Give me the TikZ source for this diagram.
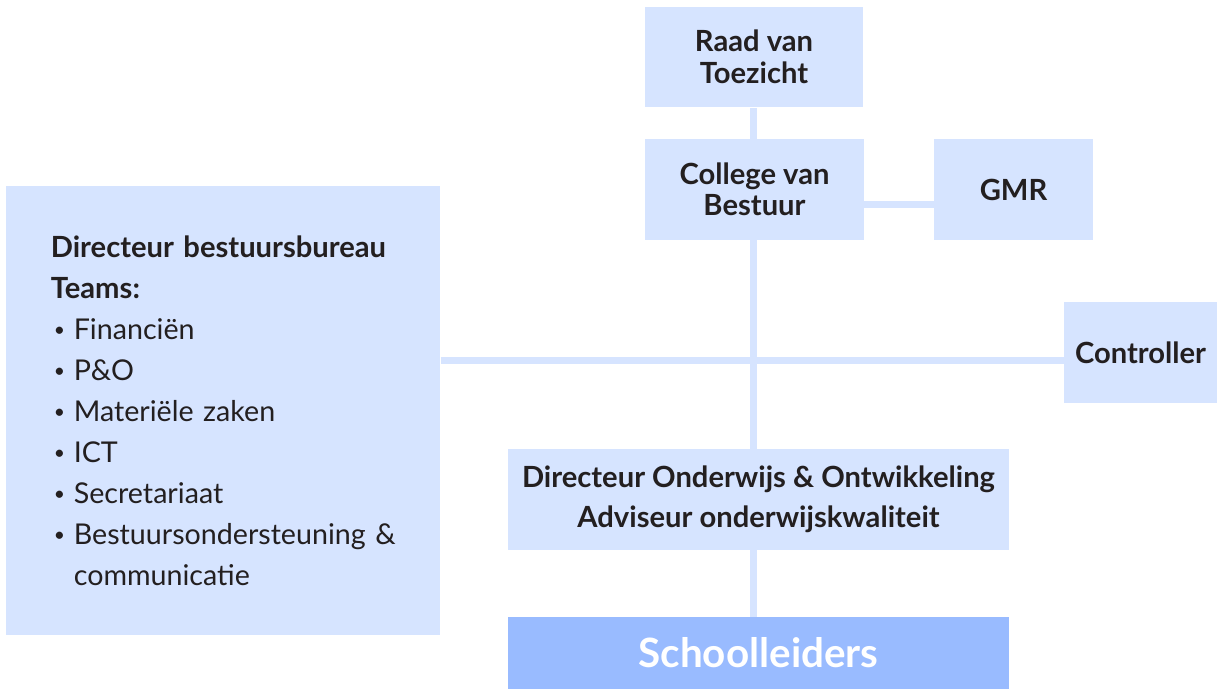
\documentclass[tikz,border=0pt]{standalone}
\usepackage{fontspec}
\setmainfont{Lato}
\definecolor{boxblue}{HTML}{D6E4FF}
\definecolor{darkblue}{HTML}{99BBFF}
\definecolor{ink}{HTML}{231F20}
\newcommand\teamitem[1]{\par\hangindent=0.46cm\hangafter=1%
  \makebox[0.46cm][l]{\hspace{0.06cm}\raisebox{0.1em}{\fontsize{11}{11}\selectfont\textbullet}}#1}
\begin{document}
\begin{tikzpicture}[x=0.02cm,y=-0.02cm,
    orgbox/.style={fill=boxblue,text=ink,align=center,inner sep=0pt,minimum height=2.02cm,
      font=\bfseries\fontsize{16.6}{17.9}\selectfont},
    link/.style={draw=boxblue,line width=0.14cm}]
  \useasboundingbox (0,0) rectangle (1217,689);
  % boxes
  \node[orgbox,minimum width=4.38cm] (raad) at (754,57) {Raad van\\Toezicht};
  \node[orgbox,minimum width=4.38cm] (cvb) at (754.5,189.5) {College van\\Bestuur};
  \node[orgbox,minimum width=3.18cm] (gmr) at (1013.5,189.5) {GMR};
  \node[orgbox,minimum width=3.06cm] (ctrl) at (1140.5,352.5) {Controller};
  \node[orgbox,minimum width=10.02cm,font=\bfseries\fontsize{16.6}{22.8}\selectfont] (dow) at (758.5,499.5)
    {Directeur Onderwijs \& Ontwikkeling\\Adviseur onderwijskwaliteit};
  \node[orgbox,fill=darkblue,text=white,minimum width=10.02cm,minimum height=1.44cm,
    font=\bfseries\fontsize{23}{26}\selectfont] (school) at (758.5,653) {Schoolleiders};
  \node[orgbox,anchor=north west,minimum width=8.68cm,minimum height=8.98cm,align=left,
    text width=6.9cm,inner xsep=0.89cm,font=\fontsize{16.3}{23.3}\selectfont] (bureau) at (6,186)
    {\rightskip=0pt plus 1fil
     {\bfseries\fontsize{16.6}{23.3}\selectfont Directeur bestuursbureau\par Teams:}
     \teamitem{Financiën}
     \teamitem{P\&O}
     \teamitem{Materiële zaken}
     \teamitem{ICT}
     \teamitem{Secretariaat}
     \teamitem{Bestuursondersteuning \&\newline communicatie}\par};
  % lines
  \coordinate (hub) at (753.5,360);
  \draw[link] (raad.south -| hub) -- (cvb.north -| hub);
  \draw[link] ([yshift=-0.31cm]cvb.east) -- ([yshift=-0.31cm]gmr.west);
  \draw[link] (cvb.south -| hub) -- (dow.north -| hub);
  \draw[link] (bureau.east |- hub) -- (ctrl.west |- hub);
  \draw[link] (dow.south -| hub) -- (school.north -| hub);
\end{tikzpicture}
\end{document}
